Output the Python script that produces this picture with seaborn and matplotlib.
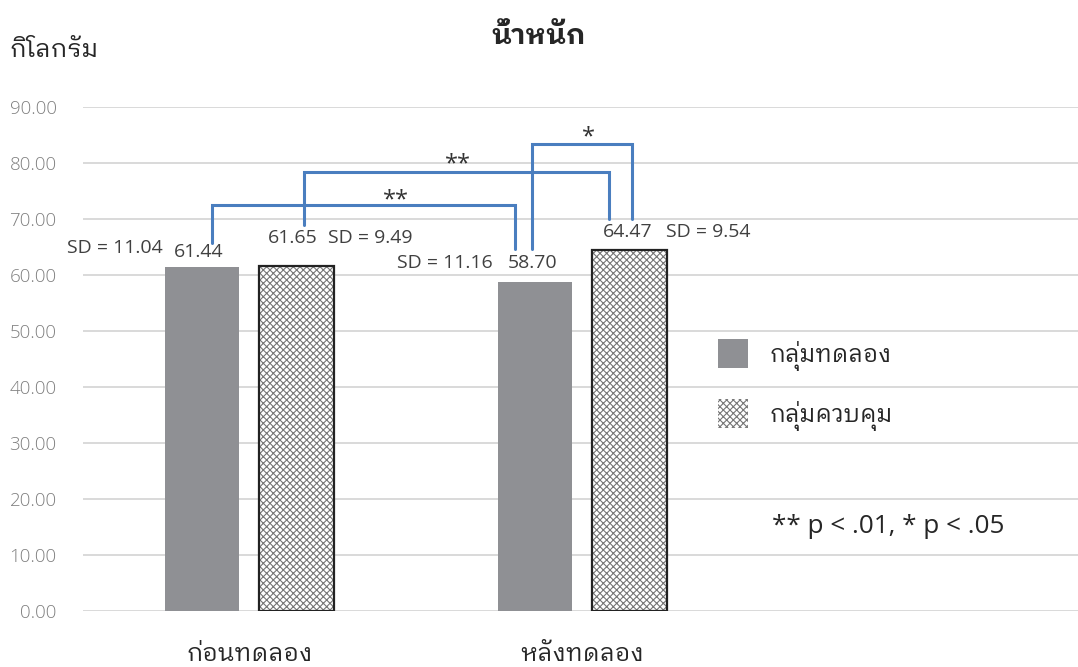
import numpy as np
import pandas as pd
import matplotlib
matplotlib.use('Agg')
import matplotlib.pyplot as plt
import seaborn as sns

# ข้อมูล
phases = ['ก่อนทดลอง', 'หลังทดลอง']
groups = ['กลุ่มทดลอง', 'กลุ่มควบคุม']
exp_means = [61.44, 58.70]
ctl_means = [61.65, 64.47]
exp_sd = [11.04, 11.16]
ctl_sd = [9.49, 9.54]
yticks = [0, 10, 20, 30, 40, 50, 60, 70, 80, 90]

sns.set_theme(style='white')
plt.rcParams['font.family'] = ['Open Sans', 'IBM Plex Sans Thai Looped', 'Loma', 'DejaVu Sans']
plt.rcParams['hatch.linewidth'] = 0.8

df = pd.DataFrame({
    'phase': phases * 2,
    'group': [groups[0]] * 2 + [groups[1]] * 2,
    'mean': exp_means + ctl_means,
})

fig = plt.figure(figsize=(10.78, 6.67), dpi=100)
ax = fig.add_axes([0.077, 0.084, 0.923, 0.756])
ax.set_axisbelow(True)
ax.grid(axis='y', color='#d9d9d9', lw=1.4)
sns.barplot(data=df, x='phase', y='mean', hue='group', hue_order=groups,
            palette=['#8f9094', 'white'], width=0.568, gap=0.21,
            legend=False, ax=ax, saturation=1)

gray_bars = ax.containers[0]
ctl_bars = ax.containers[1]
for p in gray_bars:
    p.set_edgecolor('none')
for p in ctl_bars:
    p.set_hatch('xxxxx')
    p.set_edgecolor('#767676')
    p.set_linewidth(0)
    ax.add_patch(plt.Rectangle(p.get_xy(), p.get_width(), p.get_height(),
                               fill=False, edgecolor='#222222', lw=1.6, zorder=p.get_zorder() + 0.1))

ax.set_xlim(-0.5, 2.49)
ax.set_ylim(0, 90)
ax.set_yticks(yticks)
ax.set_yticklabels([f'{v:.2f}' for v in yticks], fontweight='light')
ax.tick_params(axis='y', length=0, pad=19, labelsize=13.5, labelcolor='#808080')
ax.tick_params(axis='x', length=0, pad=23, labelsize=17.5, labelcolor='#262626')
ax.set_xlabel('')
ax.set_ylabel('')
sns.despine(ax=ax, left=True, bottom=True)

# value + SD labels (offsets in pixels)
val_off = [(-3, 15), (-2, 19), (-4, 28), (-2, 18)]
sd_off = [(-39, 19, 'right'), (-42, 19, 'right'), (31, 28, 'left'), (37, 18, 'left')]
bars = list(gray_bars) + list(ctl_bars)
sds = exp_sd + ctl_sd
for i, p in enumerate(bars):
    cx = p.get_x() + p.get_width() / 2
    top = p.get_height()
    ax.annotate(f'{top:.2f}', (cx, top), xytext=val_off[i], textcoords='offset pixels',
                ha='center', va='center', fontsize=14, color='#404040')
    dx, dy, ha = sd_off[i]
    ax.annotate(f'SD = {sds[i]:.2f}', (cx, top), xytext=(dx, dy), textcoords='offset pixels',
                ha=ha, va='center', fontsize=14, color='#404040')

# significance brackets: (bar a, bar b, dx a, dx b, bottom a, bottom b, top, label, label dx, label y)
brackets = [
    (0, 1, 0.029, -0.059, 65.7, 64.6, 72.5, '**', 0.096, 73.2),
    (2, 3, 0.021, -0.061, 68.9, 70.0, 78.3, '**', 0.005, 79.7),
    (1, 3, -0.010, 0.008, 64.6, 70.0, 83.4, '*', 0.021, 84.6),
]
for a, b, dxa, dxb, ya, yb, yt, lab, ldx, ly in brackets:
    xa = bars[a].get_x() + bars[a].get_width() / 2 + dxa
    xb = bars[b].get_x() + bars[b].get_width() / 2 + dxb
    ax.plot([xa, xa, xb, xb], [ya, yt, yt, yb], color='#4a7ebf', lw=2.2,
            solid_joinstyle='miter', clip_on=False, zorder=5)
    ax.text((xa + xb) / 2 + ldx, ly, lab, ha='center', va='center', fontsize=17, color='#333333')

fig.text(0.5, 0.945, 'น้ำหนัก', ha='center', va='center', fontsize=20, fontweight='bold', color='#262626')
fig.text(0.009, 0.925, 'กิโลกรัม', ha='left', va='center', fontsize=18, color='#262626')

leg = ax.legend(handles=[gray_bars[0], ctl_bars[0]], labels=groups, loc='upper left',
                bbox_to_anchor=(0.646, 0.523), bbox_transform=fig.transFigure,
                frameon=False, fontsize=17, handlelength=1.27, handleheight=1.5,
                labelspacing=1.22, handletextpad=0.95)
fig.text(0.716, 0.21, '** p < .01, * p < .05', ha='left', va='center', fontsize=18.8, color='#262626')

fig.savefig('out.png', dpi=100)
